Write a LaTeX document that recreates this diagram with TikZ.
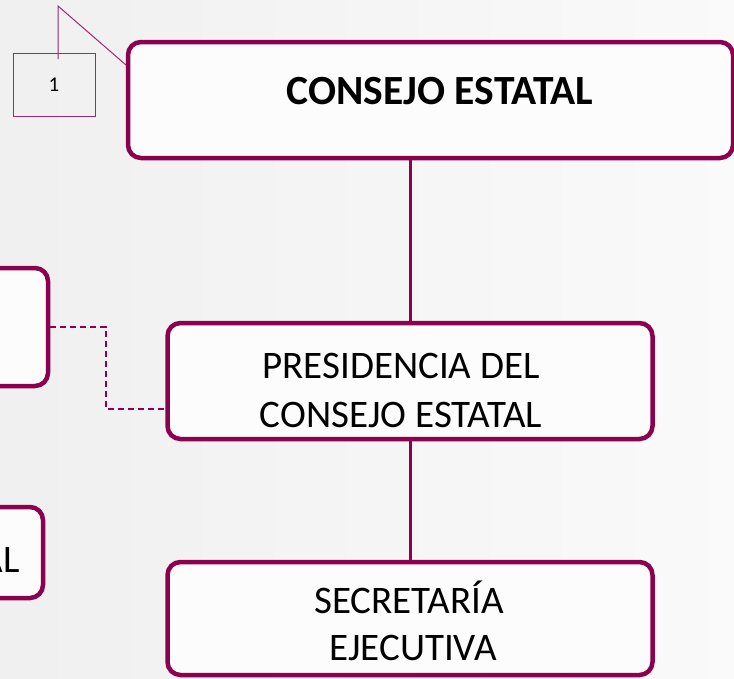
\documentclass[tikz,border=0pt]{standalone}
\usepackage{fontspec}
\setmainfont{Carlito}
\definecolor{mag}{RGB}{140,0,80}
\definecolor{magthin}{RGB}{160,40,110}
\definecolor{boxfill}{RGB}{252,252,252}
\begin{document}
\begin{tikzpicture}[x=1pt,y=-1pt,
  orgbox/.style={draw=mag, line width=4.5pt, rounded corners=13pt, fill=boxfill, inner sep=0pt},
  link/.style={draw=mag, line width=3pt},
  dlink/.style={draw=mag, line width=2pt, dash pattern=on 6pt off 4pt},
  callbox/.style={draw=magthin, line width=1pt, inner sep=0pt, minimum width=82pt, minimum height=63pt, font=\fontsize{21}{24}\selectfont},
  txt/.style={font=\fontsize{39}{46}\selectfont, anchor=base, inner sep=0pt},
  btxt/.style={font=\fontsize{41.5}{48}\selectfont\bfseries, anchor=base, inner sep=0pt}]
\useasboundingbox (0,0) rectangle (734,678);
\clip (0,0) rectangle (734,678);
\shade[left color=black!6, right color=black!2] (0,0) rectangle (734,678);
% boxes
\node[orgbox, minimum width=605pt, minimum height=116pt] (top) at (430.5,100) {};
\node[orgbox, minimum width=485pt, minimum height=116pt] (pres) at (410,381) {};
\node[orgbox, minimum width=485pt, minimum height=113pt] (sec) at (410,618.5) {};
\node[orgbox, minimum width=150pt, minimum height=118pt] (midl) at (-27,327) {};
\node[orgbox, minimum width=145pt, minimum height=91pt] (botl) at (-29.5,552.5) {};
% texts
\node[btxt] (t1) at (440,104) {CONSEJO ESTATAL};
\node[txt] (p1) at (401,378) {PRESIDENCIA DEL};
\node[txt] (p2) at (401,427) {CONSEJO ESTATAL};
\node[txt] (s1) at (409,613) {SECRETARÍA};
\node[txt] (s2) at (413,660) {EJECUTIVA};
\node[txt, anchor=base east] (bl) at (20,572) {AL};
% connectors
\draw[link] (pres.north |- top.south) -- (pres.north);
\draw[link] (pres.south) -- (sec.north);
\coordinate (dj) at (106,409);
\draw[dlink] (midl.east) -| (dj) -- (dj -| pres.west);
% callout
\node[callbox] (c1) at (54,84.5) {1};
\coordinate (ctop) at (58,6);
\coordinate (cin) at (58,59);
\coordinate (cpt) at (126,65);
\draw[magthin, line width=1pt] (cin) -- (ctop) -- (cpt);
\end{tikzpicture}
\end{document}
